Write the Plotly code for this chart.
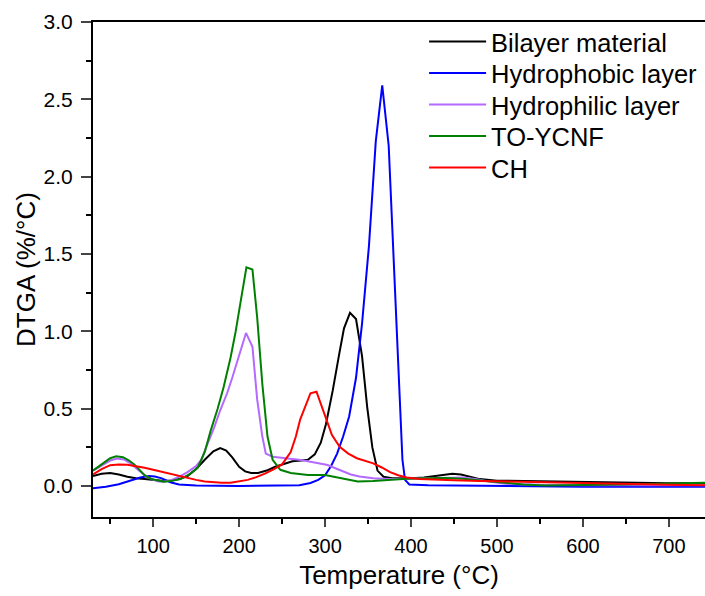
import plotly.graph_objects as go

# ---- data ----
bilayer_T = [30, 40, 50, 60, 70, 80, 90, 100, 110, 120, 130, 140, 150, 160, 170, 178, 185, 192, 200, 207, 214, 222,
             232, 242, 252, 262, 272, 280, 288, 295, 301, 309, 316, 322, 329, 336, 343, 349, 355, 361, 368, 378, 390,
             400, 415, 430, 440, 448, 458, 468, 480, 500, 550, 600, 650, 700, 742]
bilayer_v = [0.065, 0.08, 0.085, 0.075, 0.06, 0.05, 0.045, 0.04, 0.035, 0.035, 0.045, 0.065, 0.11, 0.17, 0.225, 0.245,
             0.23, 0.185, 0.125, 0.095, 0.085, 0.085, 0.1, 0.125, 0.145, 0.16, 0.165, 0.17, 0.205, 0.28, 0.40, 0.62,
             0.84, 1.02, 1.12, 1.08, 0.84, 0.51, 0.25, 0.10, 0.06, 0.05, 0.05, 0.05, 0.055, 0.065, 0.075, 0.08, 0.075,
             0.06, 0.045, 0.035, 0.03, 0.025, 0.02, 0.018, 0.018]

phobic_T = [30, 45, 60, 75, 85, 95, 102, 110, 120, 130, 150, 200, 250, 270, 283, 292, 300, 307, 314, 321, 328, 336, 343,
            351, 359, 366.5, 374, 390, 393, 398, 420, 500, 600, 700, 742]
phobic_v = [-0.015, -0.005, 0.012, 0.035, 0.055, 0.065, 0.062, 0.05, 0.025, 0.01, 0.003, 0.0, 0.002, 0.006, 0.02, 0.04,
            0.07, 0.13, 0.21, 0.32, 0.45, 0.70, 1.05, 1.55, 2.23, 2.59, 2.20, 0.17, 0.04, 0.01, 0.005, 0.0, -0.005,
            -0.005, -0.005]

philic_T = [30, 40, 50, 58, 66, 74, 82, 90, 98, 106, 114, 122, 130, 140, 150, 156, 163, 171, 178, 186, 192, 198, 208,
            215.5, 221, 227, 231, 239, 248, 260, 272, 283, 293, 303, 312, 320, 330, 340, 356, 375, 395, 420, 445, 460,
            475, 490, 510, 550, 600, 650, 700, 742]
philic_v = [0.10, 0.13, 0.165, 0.178, 0.172, 0.145, 0.11, 0.07, 0.045, 0.03, 0.03, 0.04, 0.06, 0.09, 0.13, 0.17, 0.27,
            0.38, 0.49, 0.60, 0.70, 0.815, 0.99, 0.90, 0.56, 0.32, 0.21, 0.19, 0.185, 0.179, 0.168, 0.157, 0.148, 0.136,
            0.115, 0.095, 0.075, 0.062, 0.05, 0.045, 0.048, 0.05, 0.056, 0.055, 0.045, 0.03, 0.015, 0.008, 0.006,
            0.005, 0.005, 0.005]

toycnf_T = [30, 40, 50, 57, 65, 72, 78, 85, 90, 98, 105, 112, 120, 132, 142, 152, 160, 167, 175, 182, 190, 196, 202,
            208.5, 215.5, 221, 227, 233, 239, 248, 260, 280, 300, 318, 338, 356, 375, 395, 420, 440, 460, 480, 500,
            530, 556, 600, 650, 700, 742]
toycnf_v = [0.10, 0.14, 0.18, 0.192, 0.187, 0.165, 0.14, 0.10, 0.07, 0.045, 0.035, 0.028, 0.032, 0.045, 0.075, 0.12,
            0.22, 0.36, 0.50, 0.64, 0.83, 1.0, 1.2, 1.414, 1.40, 1.09, 0.66, 0.32, 0.17, 0.105, 0.085, 0.072, 0.072,
            0.05, 0.03, 0.032, 0.04, 0.048, 0.05, 0.052, 0.048, 0.038, 0.025, 0.01, 0.003, 0.005, 0.01, 0.017, 0.022]

ch_T = [30, 40, 50, 60, 70, 80, 90, 100, 110, 120, 130, 140, 150, 160, 170, 180, 190, 200, 210, 220, 230, 240, 250,
        260, 266, 271, 277, 283, 290, 300, 308, 317, 327, 337, 347, 356, 366, 375, 385, 395, 410, 430, 450, 480, 520,
        560, 600, 650, 700, 742]
ch_v = [0.075, 0.11, 0.135, 0.14, 0.137, 0.128, 0.118, 0.105, 0.092, 0.08, 0.065, 0.05, 0.04, 0.03, 0.025, 0.022,
        0.022, 0.03, 0.04, 0.058, 0.08, 0.108, 0.14, 0.22, 0.32, 0.43, 0.52, 0.60, 0.61, 0.45, 0.33, 0.254, 0.21, 0.18,
        0.16, 0.147, 0.12, 0.092, 0.07, 0.056, 0.045, 0.04, 0.038, 0.033, 0.028, 0.022, 0.017, 0.012, 0.008, 0.006]

series_names = ["Bilayer material", "Hydrophobic layer", "Hydrophilic layer", "TO-YCNF", "CH"]
series_colors = ["#000000", "#0000FF", "#B469FF", "#008000", "#FF0000"]
series_x = [bilayer_T, phobic_T, philic_T, toycnf_T, ch_T]
series_y = [bilayer_v, phobic_v, philic_v, toycnf_v, ch_v]

x_tick_vals = [100, 200, 300, 400, 500, 600, 700]
y_tick_vals = [0.0, 0.5, 1.0, 1.5, 2.0, 2.5, 3.0]

FONT = "Liberation Sans, Arial, sans-serif"
W, H = 705, 596
ML, MR, MT, MB = 93, 0, 22, 79
plot_h = H - MT - MB

legend_ids = ["legend", "legend2", "legend3", "legend4", "legend5"]
legend_row_px = [42, 73.5, 105, 136.5, 168]   # vertical centres of the legend rows (px from top)

fig = go.Figure()
for name, col, xs, ys, lid in zip(series_names, series_colors, series_x, series_y, legend_ids):
    fig.add_trace(go.Scatter(x=xs, y=ys, mode="lines", name=name, legend=lid,
                             line=dict(color=col, width=2)))

legend_layout = {}
for lid, row in zip(legend_ids, legend_row_px):
    legend_layout[lid] = dict(x=0.541, y=1 - (row - MT) / plot_h, xanchor="left", yanchor="middle",
                              font=dict(size=25.5, family=FONT, color="black"),
                              bgcolor="rgba(0,0,0,0)", itemwidth=57, borderwidth=0)

fig.update_layout(
    width=W, height=H,
    margin=dict(l=ML, r=MR, t=MT, b=MB),
    paper_bgcolor="white", plot_bgcolor="white",
    font=dict(family=FONT, color="black", size=20),
    showlegend=True,
    xaxis=dict(range=[30, 742], tickvals=x_tick_vals, ticks="outside", ticklen=8, tickwidth=1.5,
               showline=True, linecolor="black", linewidth=2, mirror=True, showgrid=False, zeroline=False,
               tickfont=dict(size=20), ticklabelstandoff=2,
               minor=dict(tickvals=[50, 150, 250, 350, 450, 550, 650], ticks="outside", ticklen=5,
                          tickwidth=1.5, tickcolor="black"),
               title=dict(text="Temperature (°C)", font=dict(size=26), standoff=10)),
    yaxis=dict(range=[-0.2, 3.0], tickvals=y_tick_vals, tickformat=".1f", ticks="outside", ticklen=10,
               tickwidth=1.5, showline=True, linecolor="black", linewidth=2, showgrid=False, zeroline=False,
               tickfont=dict(size=21), ticklabelstandoff=4,
               minor=dict(tickvals=[0.25, 0.75, 1.25, 1.75, 2.25, 2.75], ticks="outside", ticklen=5,
                          tickwidth=1.5, tickcolor="black"),
               title=dict(text="DTGA (%/°C)", font=dict(size=26), standoff=0)),
    **legend_layout,
)

fig.write_html("out.html", config={"displayModeBar": False},
               post_script="document.body.style.margin='0';document.body.style.overflow='hidden';")
